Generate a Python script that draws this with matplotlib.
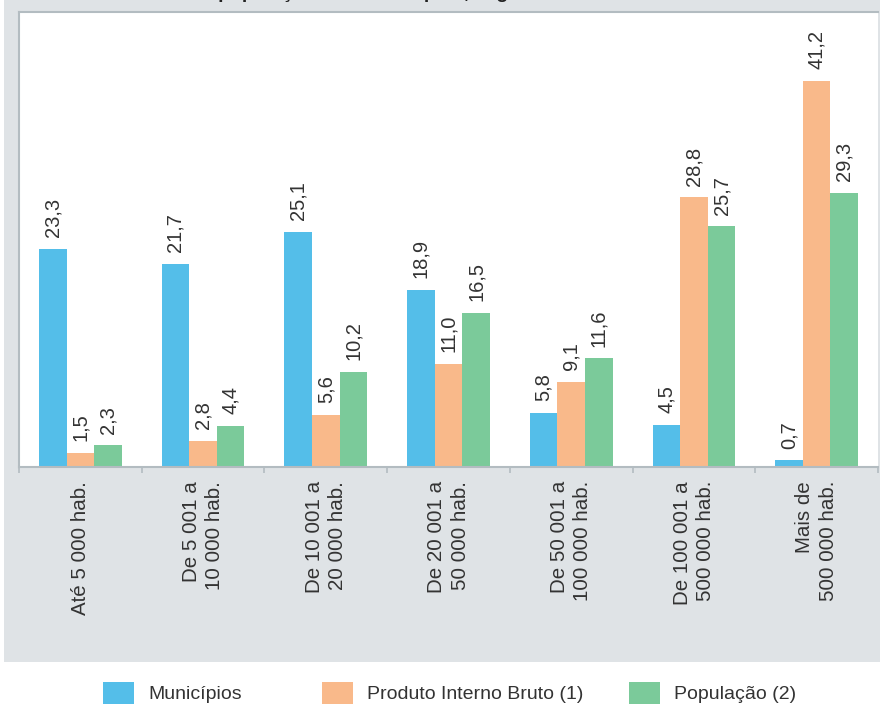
import matplotlib
matplotlib.use("Agg")
import matplotlib.pyplot as plt
from matplotlib.patches import Rectangle, Patch
from matplotlib import font_manager
import numpy as np

# ---- data -------------------------------------------------------------
categories = [
    "Até 5 000 hab.",
    "De 5 001 a\n10 000 hab.",
    "De 10 001 a\n20 000 hab.",
    "De 20 001 a\n50 000 hab.",
    "De 50 001 a\n100 000 hab.",
    "De 100 001 a\n500 000 hab.",
    "Mais de\n500 000 hab.",
]
municipios = [23.3, 21.7, 25.1, 18.9, 5.8, 4.5, 0.7]
pib = [1.5, 2.8, 5.6, 11.0, 9.1, 28.8, 41.2]
populacao = [2.3, 4.4, 10.2, 16.5, 11.6, 25.7, 29.3]
series_names = ["Municípios", "Produto Interno Bruto (1)", "População (2)"]

# ---- style ------------------------------------------------------------
BLUE = "#54bee9"
ORANGE = "#f9b98a"
GREEN = "#7bca9a"
PANEL = "#dfe3e6"
SPINE = "#b3bcc1"
TEXT = "#333333"

installed = {f.name for f in font_manager.fontManager.ttflist}
base_font = "Liberation Sans" if "Liberation Sans" in installed else "DejaVu Sans"
narrow_font = "Liberation Sans Narrow" if "Liberation Sans Narrow" in installed else base_font
plt.rcParams["font.family"] = [base_font, "DejaVu Sans"]

W, H = 880, 705
fig = plt.figure(figsize=(W / 100, H / 100), dpi=100)
fig.patch.set_facecolor("white")

# grey panel behind the chart
fig.add_artist(Rectangle((4 / W, 1 - 662 / H), (W - 4) / W, 662 / H,
                         transform=fig.transFigure, facecolor=PANEL,
                         edgecolor="none", zorder=0))

# title (runs above the visible area)
fig.text(190 / W, 1 + 2 / H,
         "da população dos municípios, segundo as classes",
         ha="left", va="baseline", fontsize=14, fontweight="bold",
         color="#222222")

ax_left, ax_right, ax_top, ax_bottom = 19, 878, 12, 467
ax = fig.add_axes([ax_left / W, 1 - ax_bottom / H,
                   (ax_right - ax_left) / W, (ax_bottom - ax_top) / H])
ax.set_facecolor("white")
ax.set_zorder(1)

x = np.arange(len(categories))
bw = 0.225
series = [municipios, pib, populacao]
colors = [BLUE, ORANGE, GREEN]
for i, (vals, col) in enumerate(zip(series, colors)):
    pos = x + (i - 1) * bw
    ax.bar(pos, vals, width=bw, color=col, edgecolor="none", zorder=2)
    for px, v in zip(pos, vals):
        ax.annotate(f"{v:.1f}".replace(".", ","), (px, v),
                    xytext=(0, 8.5), textcoords="offset points",
                    rotation=90, ha="center", va="bottom",
                    fontsize=14.5, color=TEXT)

ax.set_xlim(-0.5, len(categories) - 0.5)
ax.set_ylim(0, 48.6)
ax.set_yticks([])

ax.set_xticks(x)
ax.set_xticklabels(categories, rotation=90, ha="center", va="top",
                   multialignment="right", fontsize=14.8, color=TEXT,
                   linespacing=1.3)
ax.tick_params(axis="x", which="major", length=0, pad=10)
ax.set_xticks(np.arange(len(categories) + 1) - 0.5, minor=True)
ax.tick_params(axis="x", which="minor", length=4, width=1.2, color=SPINE,
               direction="out")

for side in ["left", "top", "bottom"]:
    ax.spines[side].set_color(SPINE)
    ax.spines[side].set_linewidth(1.5)
ax.spines["right"].set_visible(False)

# legend entries placed along the bottom
legend_x = [103, 322, 629]
for name, col, lx in zip(series_names, colors, legend_x):
    leg = fig.legend(handles=[Patch(facecolor=col, edgecolor="none")],
                     labels=[name], loc="center left",
                     bbox_to_anchor=(lx / W, 1 - 693 / H),
                     frameon=False, handlelength=1.6,
                     handleheight=1.35, handletextpad=0.72,
                     borderaxespad=0, borderpad=0,
                     prop={"family": [narrow_font, "DejaVu Sans"], "size": 14})
    for t in leg.get_texts():
        t.set_color(TEXT)

fig.savefig("out.png", dpi=100, facecolor="white")
